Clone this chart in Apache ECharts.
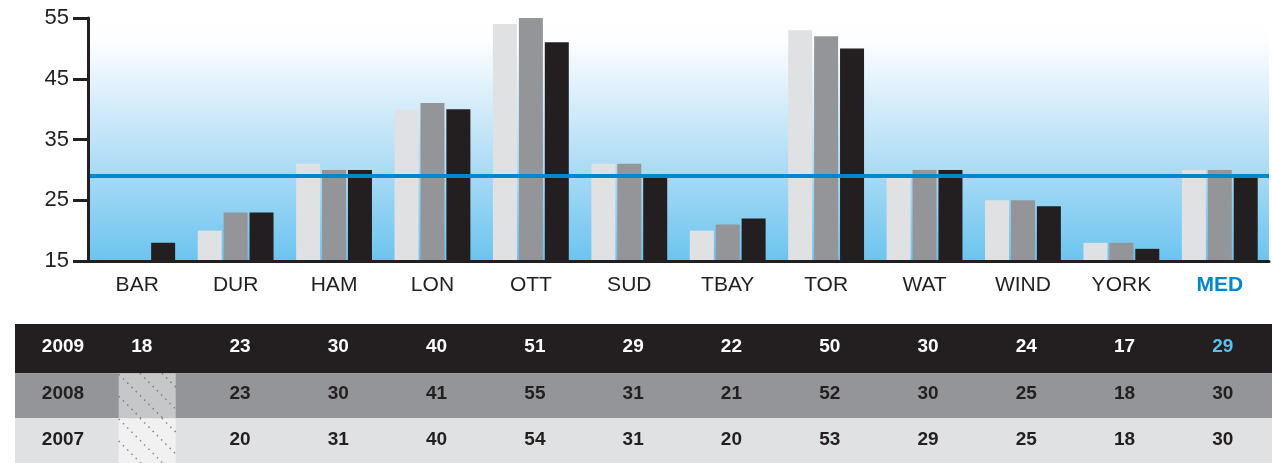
<!DOCTYPE html>
<html>
<head>
<meta charset="utf-8">
<title>chart</title>
<script src="https://cdn.jsdelivr.net/npm/echarts@6/dist/echarts.min.js"></script>
<style>
	html, body { margin: 0; padding: 0; background: #fff; }
	#chart { width: 1272px; height: 463px; }
</style>
</head>
<body>
<div id="chart"></div>
<script>
	// 数据
	var categories = ['BAR', 'DUR', 'HAM', 'LON', 'OTT', 'SUD', 'TBAY', 'TOR', 'WAT', 'WIND', 'YORK', 'MED'];
	var years = ['2009', '2008', '2007'];
	var v2009 = [18, 23, 30, 40, 51, 29, 22, 50, 30, 24, 17, 29];
	var v2008 = [null, 23, 30, 41, 55, 31, 21, 52, 30, 25, 18, 30];
	var v2007 = [null, 20, 31, 40, 54, 31, 20, 53, 29, 25, 18, 30];
	var medianLine = 29;
	var yTicks = [15, 25, 35, 45, 55];

	var dark = '#231f20';
	var rowBg = ['#231f20', '#939598', '#e0e1e3'];
	var hatchBg = [null, '#c6c7c9', '#f1f1f2'];
	// 行背景上下微调（参考图第一行略高）
	var rowPad = [[0, 3], [3, 1.5], [1.5, 0]];

	// table cells [col, row, value]
	var cells = [];
	[v2009, v2008, v2007].forEach(function (arr, r) {
		arr.forEach(function (v, c) { cells.push([c, r, v]); });
	});

	var chart = echarts.init(document.getElementById('chart'));

	function hatchCell(x, y, w, h) {
		var kids = [];
		var step = 22;
		for (var c = -h; c < w; c += step) {
			var t0 = Math.max(0, -c), t1 = Math.min(h, w - c);
			if (t1 <= t0) continue;
			kids.push({
				type: 'line',
				shape: { x1: x + c + t0, y1: y + t0, x2: x + c + t1, y2: y + t1 },
				style: { stroke: '#6d6e71', lineWidth: 1.5, lineDash: [1.5, 4.5], opacity: 0.8 }
			});
		}
		return kids;
	}

	var option = {
		animation: false,
		textStyle: { fontFamily: 'Liberation Sans, Arial, sans-serif' },
		grid: [
			{
				left: 88, top: 18, height: 243, right: 3,
				show: true, borderWidth: 0,
				backgroundColor: new echarts.graphic.LinearGradient(0, 0, 0, 1, [
					{ offset: 0, color: '#ffffff' },
					{ offset: 0.09, color: '#fdfeff' },
					{ offset: 0.5, color: '#bfe3f7' },
					{ offset: 1, color: '#6cc4ef' }
				])
			},
			{ left: 92.6, top: 324, height: 139, width: 1185 }
		],
		xAxis: [
			{
				type: 'category', gridIndex: 0, data: categories,
				axisLine: { lineStyle: { color: dark, width: 3 } },
				axisTick: { inside: true, length: 7, lineStyle: { color: dark, width: 2 } },
				axisLabel: {
					interval: 0, margin: 14, fontSize: 21, color: dark,
					formatter: function (v) { return v === 'MED' ? '{m|MED}' : v; },
					rich: { m: { fontSize: 21, fontWeight: 'bold', color: '#0088cf' } }
				},
				z: 5
			},
			{ type: 'category', gridIndex: 1, data: categories, show: false }
		],
		yAxis: [
			{
				type: 'value', gridIndex: 0, min: 15, max: 55, interval: 10,
				axisLine: { show: true, lineStyle: { color: dark, width: 3 } },
				axisTick: { show: true, length: 15, lineStyle: { color: dark, width: 3 } },
				splitLine: { show: false },
				axisLabel: {
					margin: 19, fontSize: 22, color: dark,
					customValues: yTicks
				},
				z: 5
			},
			{
				type: 'category', gridIndex: 1, data: years, inverse: true,
				axisLine: { show: false }, axisTick: { show: false },
				axisLabel: {
					margin: 29.6, align: 'center', fontSize: 19, fontWeight: 'bold',
					color: function (v, i) { return v === '2009' ? '#ffffff' : dark; }
				},
				z: 10
			}
		],
		series: [
			{
				name: '2007', type: 'bar', data: v2007, barWidth: 24, barGap: '8%',
				itemStyle: { color: '#e0e1e3' }
			},
			{
				name: '2008', type: 'bar', data: v2008, barWidth: 24, barGap: '8%',
				itemStyle: { color: '#939598' }
			},
			{
				name: '2009', type: 'bar', data: v2009, barWidth: 24, barGap: '8%',
				itemStyle: { color: dark },
				markLine: {
					silent: true, symbol: 'none', label: { show: false },
					lineStyle: { color: '#0088cf', width: 4, type: 'solid' },
					data: [{ yAxis: medianLine }]
				}
			},
			{
				// 表格行背景
				type: 'custom', xAxisIndex: 1, yAxisIndex: 1, z: 1,
				data: [[0, 0], [0, 1], [0, 2]],
				renderItem: function (params, api) {
					var r = api.value(1);
					var c = api.coord([0, r]);
					var h = api.size([0, 1])[1];
					var top = c[1] - h / 2 + rowPad[r][0];
					var bottom = c[1] + h / 2 + rowPad[r][1];
					return {
						type: 'rect',
						shape: { x: 15, y: top, width: api.getWidth() - 15, height: bottom - top },
						style: { fill: rowBg[r] }
					};
				}
			},
			{
				// 表格数值
				type: 'custom', xAxisIndex: 1, yAxisIndex: 1, z: 3,
				data: cells,
				renderItem: function (params, api) {
					var col = api.value(0), row = api.value(1), val = cells[params.dataIndex][2];
					var c = api.coord([col, row]);
					var h = api.size([0, 1])[1];
					if (val == null) {
						var x = c[0] - 23, y = c[1] - h / 2 + rowPad[row][0], w = 57;
						var hh = h - rowPad[row][0] + rowPad[row][1];
						return {
							type: 'group',
							children: [{
								type: 'rect',
								shape: { x: x, y: y, width: w, height: hh },
								style: { fill: hatchBg[row] }
							}].concat(hatchCell(x, y, w, hh))
						};
					}
					var color = row === 0 ? (categories[col] === 'MED' ? '#5bc0eb' : '#ffffff') : dark;
					return {
						type: 'text',
						x: c[0], y: c[1],
						style: {
							text: String(val), fill: color, align: 'center', verticalAlign: 'middle',
							font: 'bold 19px Liberation Sans, Arial, sans-serif'
						}
					};
				}
			}
		]
	};
	chart.setOption(option);
</script>
</body>
</html>
